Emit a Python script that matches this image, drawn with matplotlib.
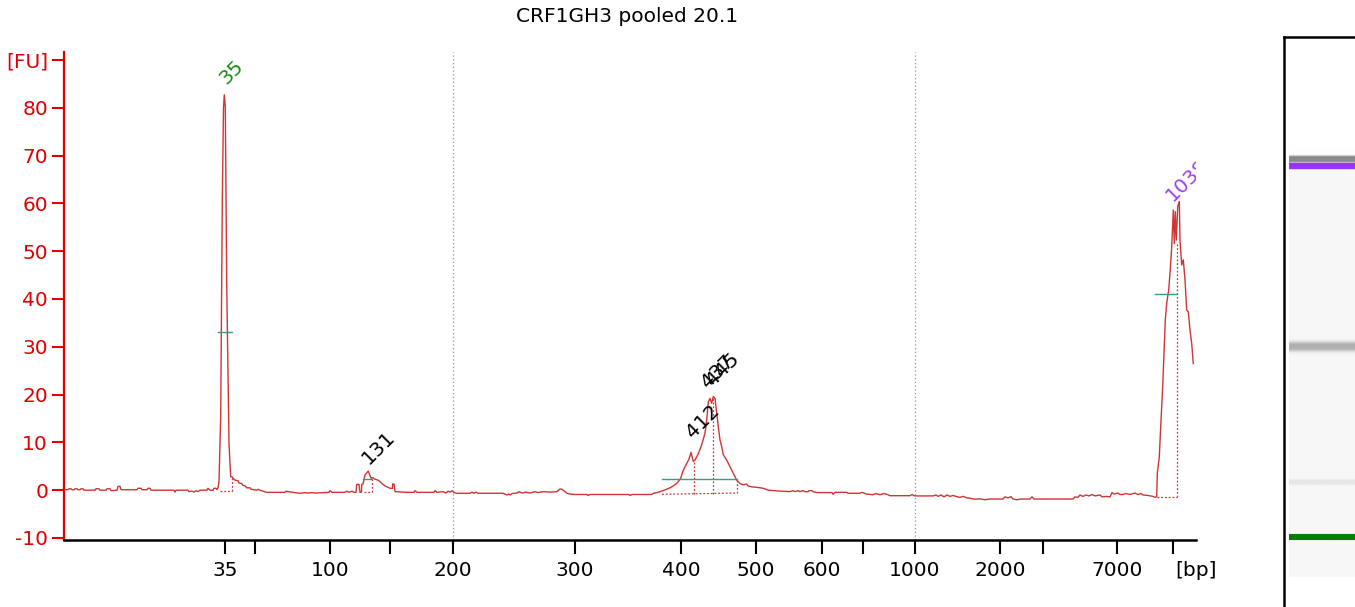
import numpy as np
import matplotlib
matplotlib.use("Agg")
import matplotlib.pyplot as plt
from matplotlib.colors import to_rgb

plt.rcParams['font.family'] = ['DejaVu Sans']

# ---------------- data ----------------
title = "CRF1GH3 pooled 20.1"

# migration position (screen-column units of the electropherogram) and fluorescence [FU]
trace_pos = [64, 68, 69, 71, 72, 74, 75, 77, 78, 80, 81, 83, 84, 95, 96, 99, 100, 106, 107, 110, 111,
             117, 118, 120, 121, 137, 138, 141, 142, 147, 148, 150, 151, 174, 175, 176, 188, 189, 192,
             194, 196, 198, 200, 207, 208, 210, 213, 214, 216, 217,
             218, 219, 220.7, 222.3, 223.5, 224.3, 225.3, 226.7, 229, 230.7, 232, 234, 235, 238, 239,
             241.7, 243, 245, 246.7, 250, 251, 256.7, 258, 260, 266.7, 285, 286, 288, 300, 305, 307,
             312, 315, 320, 329, 330, 332, 345, 347, 349, 352, 354, 356, 356.7, 359, 360, 361.5, 361.7,
             363, 365, 368.3, 371, 373, 375, 378, 380, 383, 385, 387, 390, 392.5, 392.7, 394, 395,
             406.7, 414, 415, 417, 434, 435, 437, 443, 446, 448, 450, 452, 454, 457, 470, 472, 474,
             476, 478, 503, 507, 509, 510, 512, 517, 519, 522, 526, 530, 535, 538, 543, 550, 557, 560,
             562, 563, 567, 570, 575, 587, 588, 590, 629, 630, 632, 652, 653.3, 657, 660, 663, 666.7,
             670, 673.3, 676, 678.3, 680.7, 683.3, 686.7, 689, 691, 693.3, 695, 698.3, 701.7, 705,
             706.7, 708.3, 710, 711.7, 713.3, 715, 716.7, 718.3, 720, 721.7, 723.3, 726.7, 730, 733.3,
             736.7, 740, 743.3, 746.7, 748, 751.7, 756.7, 763.3, 768.3, 780, 790, 793, 795, 798, 800,
             803, 805, 808, 809, 812, 813, 817, 832, 833, 835, 847, 848, 860, 862, 864, 866, 873, 876,
             880, 884, 888, 890, 910, 912, 914, 917, 933, 936, 938, 941, 944, 947, 950, 953, 956, 960,
             963, 967, 970, 975, 980, 985, 990, 1003, 1005, 1008, 1011, 1013, 1017, 1020, 1030, 1032,
             1034, 1073, 1075, 1078, 1080, 1083, 1086, 1089, 1092, 1095, 1100, 1102, 1106, 1110, 1112,
             1114, 1118, 1120, 1123, 1126, 1130, 1135, 1138, 1141, 1143, 1148, 1153, 1155, 1156.7,
             1157.3, 1159.3, 1160.7, 1162.7, 1164, 1165.3, 1166.7, 1168.7, 1170, 1171.7, 1173.3,
             1174.3, 1175.3, 1176.3, 1177.7, 1179.3, 1180, 1181.7, 1183.3, 1185, 1186.7, 1188.3, 1190,
             1191.7, 1193.3]
trace_fu = [0.1, 0.1, 0.3, 0.3, 0.1, 0.1, 0.3, 0.3, 0.1, 0.1, 0.3, 0.3, 0.0, 0.0, 0.3, 0.3, 0.0, 0.0,
            0.3, 0.3, -0.1, 0.0, 0.8, 0.8, 0.1, 0.1, 0.4, 0.4, 0.1, 0.1, 0.4, 0.4, 0.0, 0.0, -0.4, 0.0,
            0.0, -0.3, -0.2, -0.4, -0.1, -0.3, 0.0, 0.0, 0.4, 0.0, 0.0, 0.4, 0.4, 0.1,
            0.5, 1.8, 15.4, 60.7, 80.0, 82.7, 80.2, 43.3, 9.8, 2.8, 2.8, 2.3, 2.1, 2.0, 1.5,
            1.4, 1.0, 0.9, 0.5, 0.5, 0.2, 0.0, 0.2, 0.0, -0.45, -0.45, -0.2, -0.3, -0.65, -0.5, -0.6,
            -0.5, -0.6, -0.55, -0.45, -0.1, -0.45, -0.45, -0.2, -0.45, -0.2, -0.45, -0.45, 1.2, 1.2,
            -0.45, -0.4, 1.2, 1.3, 3.2, 4.0, 2.5, 2.6, 2.3, 2.1, 1.8, 1.2, 0.9, 0.7, 0.4, 0.4, 1.3,
            1.3, -0.3, -0.45, -0.45, -0.1, -0.45, -0.45, -0.1, -0.45, -0.3, -0.6, -0.2, -0.4, -0.1,
            -0.5, -0.65, -0.65, -0.4, -0.65, -0.4, -0.65, -0.65, -1.0, -0.8, -1.0, -0.7, -0.6, -0.3,
            -0.6, -0.4, -0.6, -0.3, -0.5, -0.3, -0.4, -0.3, 0.25, 0.2, 0.0, -0.65, -0.8, -0.9, -0.9,
            -1.1, -0.9, -0.9, -1.1, -0.9, -0.9, -0.65, -0.5, -0.3, -0.1, 0.2, 0.5, 0.9, 1.3, 1.8, 2.5,
            4.2, 5.6, 6.5, 7.9, 6.0, 6.3, 7.6, 9.5, 11.9, 14.7, 18.5, 19.2, 18.2, 19.6, 19.2, 16.1,
            13.3, 10.5, 9.1, 7.4, 6.3, 4.9, 3.5, 2.1, 1.4, 1.1, 1.3, 0.9, 0.7, 0.6, 0.4, 0.0, -0.2,
            -0.3, -0.1, -0.3, -0.1, -0.3, -0.1, -0.3, -0.3, -0.1, -0.1, -0.3, -0.5, -0.5, -0.86,
            -0.45, -0.45, -0.65, -0.65, -0.45, -0.6, -0.8, -0.95, -0.7, -0.95, -0.7, -0.95, -1.15,
            -1.15, -0.9, -1.15, -1.2, -1.2, -1.0, -1.3, -1.0, -1.4, -1.0, -1.3, -1.1, -1.3, -1.5,
            -1.3, -1.6, -1.7, -1.9, -1.8, -2.0, -1.85, -1.85, -1.4, -1.6, -1.35, -1.85, -2.0, -1.85,
            -1.85, -1.4, -1.85, -1.85, -1.4, -1.5, -1.0, -1.3, -1.0, -1.2, -0.9, -1.2, -1.0, -1.4,
            -1.3, -1.4, -0.5, -0.8, -0.6, -0.9, -0.9, -0.7, -0.9, -0.6, -0.9, -0.7, -1.0, -1.1, -1.3,
            -1.5, -1.35,
            3.5, 7.0, 13.3, 21.7, 28.6, 35.6, 39.1, 41.9, 45.4, 50.9, 58.6, 51.6, 58.3, 52.3, 59.3,
            60.4, 52.3, 47.1, 48.2, 44.0, 37.7, 37.3, 33.5, 30.7, 26.5]

# bp scale: tick positions (same position units) and labels
bp_tick_pos = [225, 255, 330, 390, 453, 575, 681, 756, 822, 863, 915, 1000, 1043, 1117, 1173, 1196]
bp_tick_lab = ['35', '', '100', '', '200', '300', '400', '500', '600', '', '1000', '2000', '',
               '7000', '', '[bp]']
grid_pos = [453, 915]

fu_ticks = [-10, 0, 10, 20, 30, 40, 50, 60, 70, 80, 90]
fu_labels = ['-10', '0', '10', '20', '30', '40', '50', '60', '70', '80', '[FU]']

# peak calls: label, anchor position, anchor FU, colour
peak_labels = ['35', '131', '412', '437', '445', '10380']
peak_lab_pos = [229, 372, 696, 711, 716, 1176]
peak_lab_fu = [84.1, 4.6, 10.1, 20.5, 21.0, 59.7]
peak_lab_col = ['#1a8c1a', 'black', 'black', 'black', 'black', '#a040f0']

# peak windows: half-height bars (green) and integration limits (dotted)
half_bar_fu = [33.0, 2.3, 2.4, 41.0]
half_bar_start = [218.3, 363.3, 662.3, 1155.0]
half_bar_end = [231.7, 371.7, 736.7, 1176.7]
win_start = [220.0, 364.0, 662.0, 1157.0]
win_end = [232.3, 372.3, 736.7, 1177.3]
win_base_start = [-0.1, -0.45, -0.85, -1.45]
win_base_end = [-0.1, -0.45, -0.6, -1.45]
split_pos = [232.3, 372.3, 694.3, 712.7, 736.7, 1177.3]
split_lo = [-0.1, -0.45, -0.75, -0.7, -0.6, -1.45]
split_hi = [2.8, 2.3, 6.0, 19.5, 2.1, 52.0]

# gel lane bands (screen rows), colours, half widths and edge softness
gel_band_row = [159.0, 166.0, 346.5, 482.0, 537.0]
gel_band_col = ['#8a8a8a', '#9933ff', '#b0b0b0', '#e6e6e6', '#008000']
gel_band_half = [2.0, 3.0, 1.5, 1.0, 3.0]
gel_band_soft = [1.5, 0.4, 3.5, 2.0, 0.3]
gel_lane_top, gel_lane_bottom = 156, 577

# ---------------- figure ----------------
FS = 14.5
W, H = 1355, 607
fig = plt.figure(figsize=(W / 100, H / 100), dpi=100)

ax_left, ax_right, ax_top, ax_bot = 64, 1196, 52, 540
ax = fig.add_axes([ax_left / W, (H - ax_bot) / H, (ax_right - ax_left) / W, (ax_bot - ax_top) / H])
ax.set_xlim(ax_left, ax_right)
ax.set_ylim(-10.42, 91.67)

red = '#e00000'
for s in ['top', 'right']:
    ax.spines[s].set_visible(False)
ax.spines['left'].set_color(red)
ax.spines['left'].set_linewidth(1.6)
ax.spines['bottom'].set_color('black')
ax.spines['bottom'].set_linewidth(1.8)

ax.set_yticks(fu_ticks)
ax.set_yticklabels(fu_labels)
ax.tick_params(axis='y', direction='out', length=8.5, width=1.5, color=red,
               labelcolor=red, labelsize=FS, pad=3)
ax.set_xticks(bp_tick_pos)
ax.set_xticklabels(bp_tick_lab)
ax.tick_params(axis='x', direction='out', length=10, width=1.5, color='black',
               labelcolor='black', labelsize=FS, pad=5)
ax.xaxis.get_major_ticks()[-1].tick1line.set_visible(False)

for g in grid_pos:
    ax.axvline(g, color='#8c8cc8', lw=0.9, ls=(0, (1, 2)), zorder=1)

ax.plot(trace_pos, trace_fu, color='#d03434', lw=1.0, zorder=3)

for fu, a, b in zip(half_bar_fu, half_bar_start, half_bar_end):
    ax.plot([a, b], [fu, fu], color='#3d9a85', lw=1.0, zorder=4)
for a, b, ya, yb in zip(win_start, win_end, win_base_start, win_base_end):
    ax.plot([a, b], [ya, yb], color='#d03434', lw=0.9, ls=(0, (1.5, 1.5)), zorder=2)
for x, lo, hi in zip(split_pos, split_lo, split_hi):
    ax.plot([x, x], [lo, hi], color='#d03434', lw=0.9, ls=(0, (1.5, 1.5)), zorder=2)

for lab, x, y, c in zip(peak_labels, peak_lab_pos, peak_lab_fu, peak_lab_col):
    ax.text(x, y, lab, rotation=45, rotation_mode='anchor', ha='left', va='bottom',
            color=c, fontsize=FS, clip_on=True, zorder=5)

fig.text(627 / W, 1 - 17 / H, title, ha='center', va='center', fontsize=FS)

# ---------------- gel lane ----------------
gx0, gy0 = 1284, 37
gax = fig.add_axes([gx0 / W, 0, (W - gx0) / W, (H - gy0) / H])
rows = np.arange(gy0, H) + 0.5
img = np.ones((len(rows), 3))
lane = (rows >= gel_lane_top) & (rows <= gel_lane_bottom)
img[lane] = 0.972
for r, c, hw, sf in zip(gel_band_row, gel_band_col, gel_band_half, gel_band_soft):
    d = np.abs(rows - r)
    a = np.where(d <= hw, 1.0, np.exp(-((d - hw) / sf) ** 2))
    img = img * (1 - a[:, None]) + np.array(to_rgb(c))[None, :] * a[:, None]
img = np.repeat(img[:, None, :], 2, axis=1)
gax.imshow(img, aspect='auto', extent=[1289 - gx0, W - gx0, H, gy0], interpolation='bilinear')
gax.set_xlim(0, W - gx0)
gax.set_ylim(H, gy0)
gax.set_xticks([])
gax.set_yticks([])
for s in ['bottom', 'right']:
    gax.spines[s].set_visible(False)
for s in ['top', 'left']:
    gax.spines[s].set_color('black')
    gax.spines[s].set_linewidth(1.8)

fig.savefig('out.png', dpi=100)
